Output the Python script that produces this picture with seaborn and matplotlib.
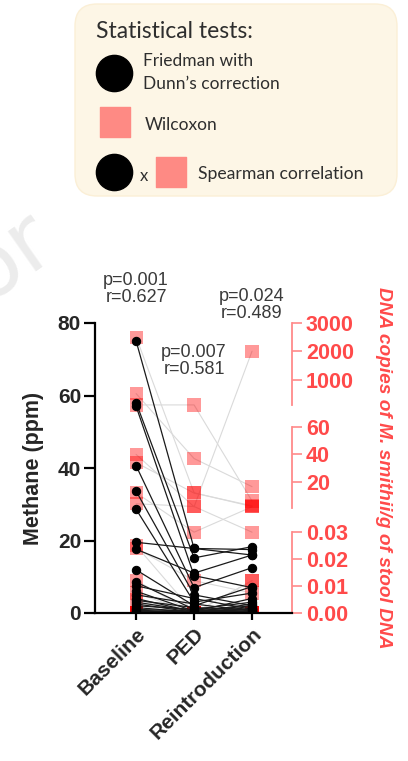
import matplotlib
matplotlib.use("Agg")
import matplotlib.pyplot as plt
from matplotlib.patches import FancyBboxPatch
import numpy as np
import pandas as pd
import seaborn as sns

sns.set_style("white")
plt.rcParams["font.family"] = ["Liberation Sans", "DejaVu Sans"]

# time points
timepoints = ["Baseline", "PED", "Reintroduction"]

# breath methane (ppm), one entry per subject
methane_baseline = [75, 58, 57, 40.6, 33.6, 28.6, 19.5, 17.6, 11.9, 8.5, 7.5, 6, 5,
                    4, 3.5, 3, 2.5, 2, 1.5, 1, 0.8, 0.5, 0.3, 0.2, 0.1]
methane_ped = [17.8, 15.2, 10.3, 7, 5, 3, 17.8, 11, 2, 1, 4, 0.5, 2.5,
               0.3, 1.5, 0.5, 0.2, 1, 0.2, 0.5, 0.1, 0.2, 0.1, 0, 0.3]
methane_reintro = [16, 18.3, 7, 12.5, 2, 5.5, 17.5, 16, 7.3, 3, 1, 2, 0.5,
                   1.5, 0.8, 4, 1, 0.3, 2.5, 0.2, 0.5, 0.1, 1, 0.2, 0]

# M. smithii DNA copies / g stool DNA, same subjects
dna_baseline = [2500, 500, 100, 40, 34, 12, 4, 0.025, 0.024, 0.012, 0.0074, 0.005, 0,
                0, 0, 0, 0, 0, 0, 0, 0, 0, 0, 0, 0]
dna_ped = [12, 37, 100, 1.8, 11.8, 0.03, 2, 0, 0.012, 0, 0, 0, 0,
           0, 0, 0, 0, 0, 0, 0, 0, 0, 0, 0, 0]
dna_reintro = [2, 16.5, 6, 2000, 2.5, 1.8, 0.03, 0.012, 0.0074, 0.012, 0, 0, 0,
               0, 0, 0, 0, 0, 0, 0, 0, 0, 0, 0, 0]

# statistics above each group
stats_labels = ["p=0.001\nr=0.627", "p=0.007\nr=0.581", "p=0.024\nr=0.489"]
stats_y = [89.5, 69.5, 85]

# broken right axis: DNA value -> position in methane units
dna_breaks = [0, 0.03, 1, 60, 100, 3000]
pos_breaks = [0, 22.3, 29.0, 51.3, 57.4, 80]


def fwd(v):
    return np.interp(v, dna_breaks, pos_breaks)


def inv(p):
    return np.interp(p, pos_breaks, dna_breaks)


n = len(methane_baseline)
rows = []
for i in range(n):
    for k, (m, d) in enumerate(zip([methane_baseline, methane_ped, methane_reintro],
                                   [dna_baseline, dna_ped, dna_reintro])):
        rows.append({"subject": i, "pos": k, "methane": m[i], "dna": d[i]})
df = pd.DataFrame(rows)

RED = "#ff4a4a"
RED_SPINE = "#ff8a8a"

fig = plt.figure(figsize=(4.08, 7.61), dpi=100)

# background overlay: watermark fragment + legend box
lax = fig.add_axes([0, 0, 1, 1], zorder=-1)
lax.set_xlim(0, 408)
lax.set_ylim(761, 0)
lax.axis("off")
lax.text(8, 258, "or", rotation=35, fontsize=64, color="#ececec",
         ha="center", va="center", family="DejaVu Sans")
lax.add_patch(FancyBboxPatch((75, 4), 322, 192,
                             boxstyle="round,pad=0,rounding_size=22",
                             fc="#fdf6e6", ec="#fbefd6", lw=1))
lfont = dict(family=["Lato", "DejaVu Sans"], color="#2e2e2e", va="center")
lax.text(96, 31, "Statistical tests:", fontsize=16.5, **lfont)
lax.scatter([114], [73], s=680, color="black")
lax.text(143, 61, "Friedman with", fontsize=12.5, **lfont)
lax.text(143, 84, "Dunn\u2019s correction", fontsize=12.5, **lfont)
lax.scatter([114.5], [122], s=490, marker="s", color="#fe8a84")
lax.text(145, 125, "Wilcoxon", fontsize=12.5, **lfont)
lax.scatter([114], [172], s=680, color="black")
lax.text(140, 176, "x", fontsize=12, **lfont)
lax.scatter([170.5], [172], s=490, marker="s", color="#fe8a84")
lax.text(198, 174, "Spearman correlation", fontsize=12.7, **lfont)

# main axes
ax = fig.add_axes([95 / 408, 148 / 761, 197 / 408, 290 / 761])
ax2 = ax.twinx()
ax3 = ax.twinx()
ax4 = ax.twinx()

# DNA (red squares, grey links)
sns.lineplot(data=df, x="pos", y="dna", units="subject", estimator=None,
             color="#dadada", lw=0.8, ax=ax2, legend=False)
sns.scatterplot(data=df, x="pos", y="dna", marker="s", s=90, color="#ff0000",
                alpha=0.4, edgecolor="none", ax=ax2, legend=False, zorder=3)

# methane (black dots and lines)
sns.lineplot(data=df, x="pos", y="methane", units="subject", estimator=None,
             color="#1a1a1a", lw=0.9, marker="o", markersize=6,
             markeredgecolor="black", markerfacecolor="black", ax=ax, legend=False)

ax.set_zorder(5)
ax.patch.set_visible(False)
ax.set_xlim(-0.71, 2.69)
ax.set_ylim(0, 80)
ax.set_yticks([0, 20, 40, 60, 80])
ax.set_xticks([0, 1, 2])
ax.set_xticklabels(timepoints, rotation=45, ha="right", rotation_mode="anchor",
                   fontsize=15, fontweight="bold")
for lab in ax.get_yticklabels():
    lab.set_fontweight("bold")
ax.tick_params(axis="y", labelsize=15, length=8, width=1.6, color="black", pad=2,
               left=True)
ax.tick_params(axis="x", length=5, width=1.6, color="black", pad=3, bottom=True)
ax.set_xlabel("")
ax.set_ylabel("Methane (ppm)", fontsize=15.5, fontweight="bold", labelpad=10)
for s in ["top", "right"]:
    ax.spines[s].set_visible(False)
for s in ["left", "bottom"]:
    ax.spines[s].set_color("black")
    ax.spines[s].set_linewidth(1.6)

for x, (lab, y) in enumerate(zip(stats_labels, stats_y)):
    ax.text(x, y, lab, ha="center", va="center", fontsize=13, color="#3a3a3a",
            linespacing=1.0, clip_on=False)

# broken right axis, three segments
segments = [(ax2, (100, 3000), [1000, 2000, 3000], ["1000", "2000", "3000"]),
            (ax3, (1, 60), [20, 40, 60], ["20", "40", "60"]),
            (ax4, (0, 0.03), [0, 0.01, 0.02, 0.03], ["0.00", "0.01", "0.02", "0.03"])]
for a, bounds, ticks, labels in segments:
    a.set_yscale("function", functions=(fwd, inv))
    a.set_ylim(0, 3000)
    a.set_yticks(ticks)
    a.set_yticklabels(labels, fontsize=15.5, fontweight="bold", color=RED)
    a.yaxis.set_minor_locator(matplotlib.ticker.NullLocator())
    a.tick_params(axis="y", length=7, width=1.2, color=RED_SPINE, pad=3)
    for s in ["top", "left", "bottom"]:
        a.spines[s].set_visible(False)
    a.spines["right"].set_color(RED_SPINE)
    a.spines["right"].set_linewidth(1.3)
    a.spines["right"].set_bounds(*bounds)
    a.set_ylabel("")
    a.set_xlabel("")

ax2.set_ylabel("DNA copies of M. smithii/g of stool DNA", rotation=270,
               fontsize=13.8, fontstyle="italic", fontweight="bold", color=RED,
               va="center")
ax2.yaxis.set_label_coords(1.465, 0.5)

fig.savefig("out.png", dpi=100)
